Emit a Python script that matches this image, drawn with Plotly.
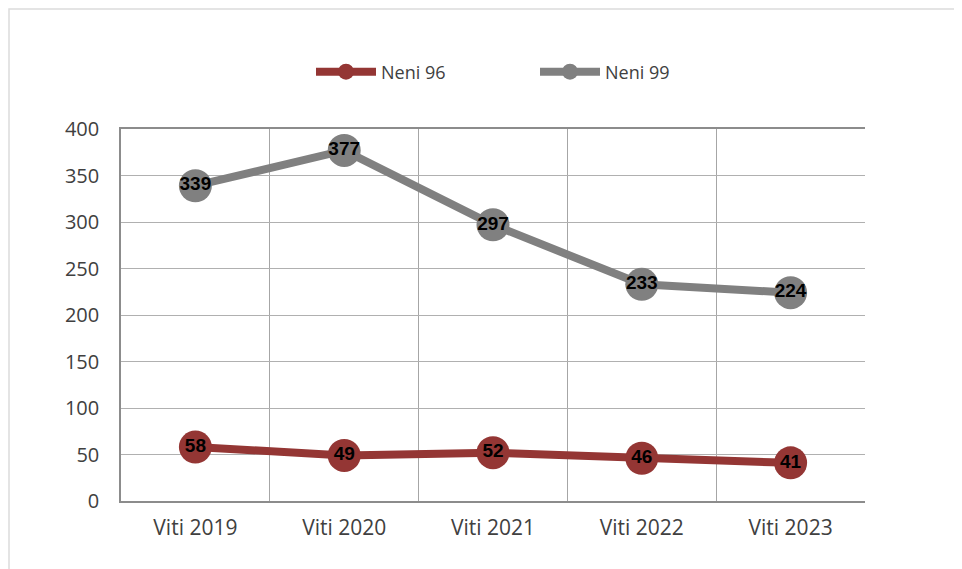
import plotly.graph_objects as go

categories = ["Viti 2019", "Viti 2020", "Viti 2021", "Viti 2022", "Viti 2023"]
neni96 = [58, 49, 52, 46, 41]
neni99 = [339, 377, 297, 233, 224]
y_ticks = [0, 50, 100, 150, 200, 250, 300, 350, 400]

RED = "#943634"
GRAY = "#808080"
FONT = "Open Sans, Liberation Sans, sans-serif"

L, T, W, H = 113, 121, 744, 372

fig = go.Figure()
for name, vals, col, lg in [("Neni 96", neni96, RED, "legend"), ("Neni 99", neni99, GRAY, "legend2")]:
    fig.add_trace(go.Scatter(
        x=categories, y=vals, name=name, mode="lines+markers+text",
        line=dict(color=col, width=8),
        marker=dict(color=col, size=33),
        text=[str(v) for v in vals], textposition="middle center",
        textfont=dict(family="Liberation Sans, Arial, sans-serif", size=19, color="#000000", weight="bold"),
        cliponaxis=False, legend=lg,
    ))

leg_common = dict(orientation="h", yref="container", y=1 - 64 / 569, yanchor="middle",
                  xanchor="left", font=dict(size=18, color="#404040"), itemwidth=60,
                  bgcolor="rgba(0,0,0,0)")
fig.update_layout(
    width=962, height=569,
    margin=dict(l=L, r=962 - L - W, t=T, b=569 - T - H),
    paper_bgcolor="white", plot_bgcolor="white",
    font=dict(family=FONT, size=20, color="#404040"),
    showlegend=True,
    legend=dict(x=(303 - L) / W, **leg_common),
    legend2=dict(x=(527 - L) / W, **leg_common),
    xaxis=dict(type="category", range=[-0.5, 4.5], tickson="boundaries",
               showgrid=True, gridcolor="#a6a6a6", gridwidth=1.3,
               showline=True, linecolor="#8c8c8c", linewidth=1.5, mirror=True,
               ticks="", tickfont=dict(size=21), ticklabelstandoff=7),
    yaxis=dict(range=[0, 400], tickvals=y_ticks, showgrid=True, gridcolor="#b0b0b0",
               gridwidth=1.3, showline=True, linecolor="#8c8c8c", linewidth=1.5,
               zeroline=False, ticks="", ticklabelstandoff=16, tickfont=dict(size=20)),
)
fig.add_shape(type="rect", xref="paper", yref="paper",
              x0=(1 - L) / W, x1=1 + (962 - L - W + 40) / W,
              y0=-(569 - T - H + 20) / H, y1=1 + (T - 1) / H,
              line=dict(color="#dcdcdc", width=1.5), layer="below")
fig.write_html("out.html")
